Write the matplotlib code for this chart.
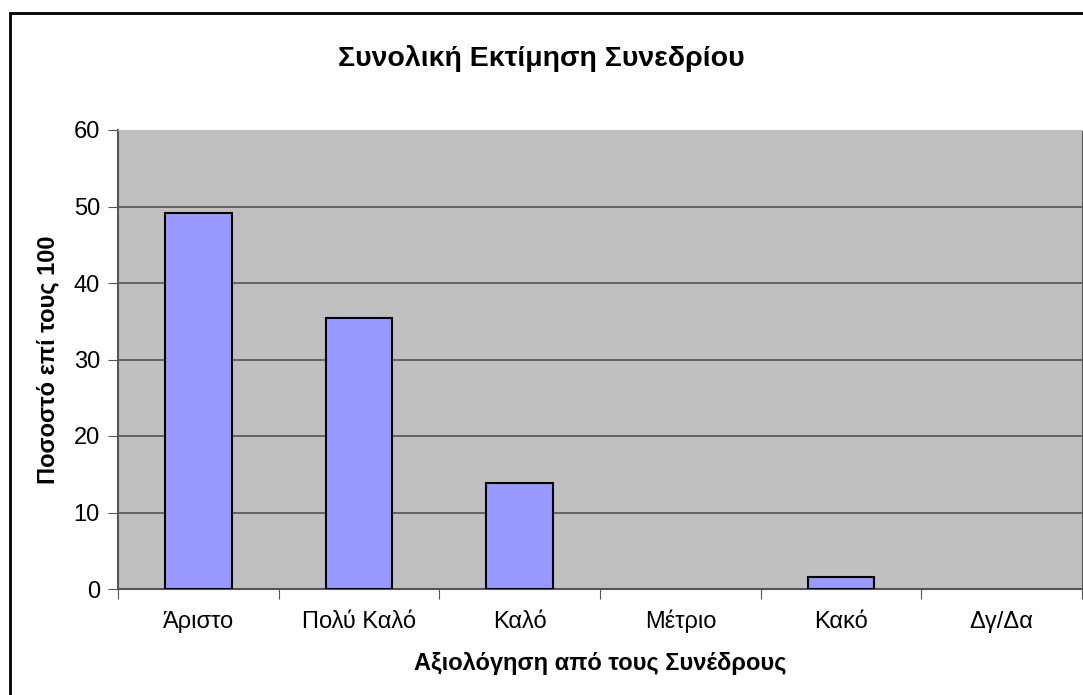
import matplotlib.pyplot as plt
from matplotlib.patches import Rectangle

categories = ['Άριστο', 'Πολύ Καλό', 'Καλό', 'Μέτριο', 'Κακό', 'Δγ/Δα']
values = [49.2, 35.4, 13.8, 0, 1.6, 0]
yticks = [0, 10, 20, 30, 40, 50, 60]

plt.rcParams['font.family'] = ['Liberation Sans', 'DejaVu Sans']

fig = plt.figure(figsize=(10.83, 6.95), dpi=100)
fig.patches.append(Rectangle((10 / 1083, -0.05), 1.2, 1 - 13 / 695 + 0.05,
                             transform=fig.transFigure, fill=False,
                             edgecolor='black', linewidth=2))

ax = fig.add_axes([118 / 1083, 106 / 695, 964 / 1083, 459 / 695])
ax.set_facecolor('#c0c0c0')

x = range(len(categories))
# zero-valued bars are not drawn with an outline in the original
edge_w = [1.5 if v > 0 else 0 for v in values]
ax.bar(x, values, width=0.415, color='#9999ff', edgecolor='black',
       linewidth=edge_w, zorder=3)

ax.set_xlim(-0.5, len(categories) - 0.5)
ax.set_ylim(0, 60)
ax.set_yticks(yticks)
ax.yaxis.grid(True, color='#555555', linewidth=1.2, zorder=1)
ax.set_axisbelow(True)

ax.set_xticks([i - 0.5 for i in range(len(categories) + 1)], minor=False)
ax.set_xticklabels([])
ax.set_xticks(list(x), minor=True)
ax.set_xticklabels(categories, minor=True, fontsize=17)
for lbl in ax.get_xticklabels(minor=True):
    lbl.set_va('baseline')
ax.tick_params(axis='x', which='minor', length=0, pad=28)
ax.tick_params(axis='x', which='major', length=7, color='#555555')
ax.tick_params(axis='y', length=7, color='#555555', labelsize=17, pad=6)

for s in ['left', 'bottom']:
    ax.spines[s].set_color('#555555')
    ax.spines[s].set_linewidth(1.5)
ax.spines['top'].set_color('#c0c0c0')
ax.spines['right'].set_color('#555555')

ax.set_xlabel('Αξιολόγηση από τους Συνέδρους', fontsize=17, fontweight='bold',
              labelpad=14)
ax.set_ylabel('Ποσοστό επί τους 100', fontsize=17, fontweight='bold',
              labelpad=10)
fig.text(0.5, 1 - 59 / 695, 'Συνολική Εκτίμηση Συνεδρίου', ha='center',
         va='center', fontsize=20.5, fontweight='bold')

fig.savefig('out.png', dpi=100)
